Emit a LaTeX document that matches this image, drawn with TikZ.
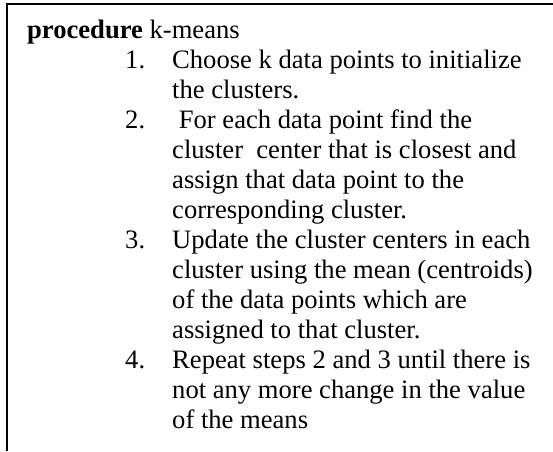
\documentclass[tikz,border=0pt]{standalone}
\usepackage{fontspec}
\setmainfont{Liberation Serif}
\begin{document}
\begin{tikzpicture}[x=1pt,y=-1pt,
  txt/.style={anchor=base west, inner sep=0pt, font=\fontsize{26.6}{30}\selectfont},
  frame/.style={line width=1.5pt, black}]
\useasboundingbox (0,0) rectangle (553,451);
\coordinate (tl) at (7,4);
\coordinate (tr) at (553,4);
\coordinate (bl) at (7,451);
\draw[frame] (tr) -- (tl) -- (bl);
\node[txt] (h) at (27,38) {\textbf{procedure} k-means};
\node[txt] (n1) at (125,68) {1.};
\node[txt] (l1a) at (172,68) {Choose k data points to initialize};
\node[txt] (l1b) at (172,98) {the clusters.};
\node[txt] (n2) at (125,128) {2.};
\node[txt] (l2a) at (172,128) {\ For each data point find the};
\node[txt] (l2b) at (172,158) {cluster\ \ center that is closest and};
\node[txt] (l2c) at (172,188) {assign that data point to the};
\node[txt] (l2d) at (172,218) {corresponding cluster.};
\node[txt] (n3) at (125,248) {3.};
\node[txt] (l3a) at (172,248) {Update the cluster centers in each};
\node[txt] (l3b) at (172,278) {cluster using the mean (centroids)};
\node[txt] (l3c) at (172,308) {of the data points which are};
\node[txt] (l3d) at (172,338) {assigned to that cluster.};
\node[txt] (n4) at (125,368) {4.};
\node[txt] (l4a) at (172,368) {Repeat steps 2 and 3 until there is};
\node[txt] (l4b) at (172,398) {not any more change in the value};
\node[txt] (l4c) at (172,428) {of the means};
\end{tikzpicture}
\end{document}
